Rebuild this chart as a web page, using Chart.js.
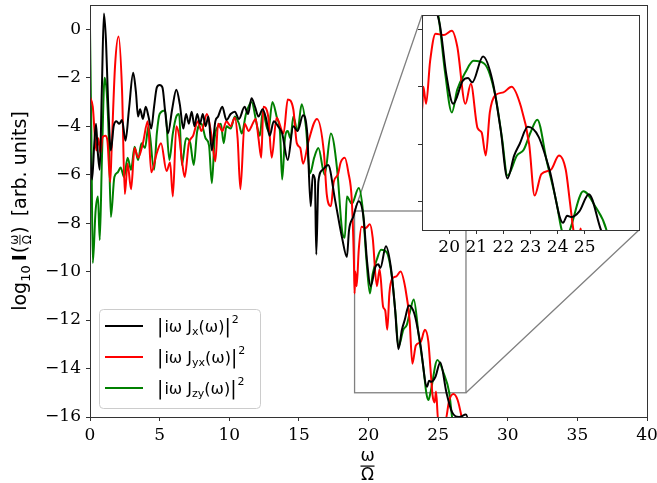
<!DOCTYPE html>
<html>
<head>
<meta charset="utf-8">
<script src="https://cdn.jsdelivr.net/npm/chart.js@4.4.0/dist/chart.umd.min.js"></script>
<style>
  html, body { margin: 0; padding: 0; background: #fff; }
  #wrap { position: relative; width: 657px; height: 483px; }
  #main { position: absolute; left: 0; top: 0; }
  #inset { position: absolute; left: 400px; top: 0; }
</style>
</head>
<body>
<div id="wrap">
  <canvas id="main" width="657" height="483"></canvas>
  <canvas id="inset" width="257" height="260"></canvas>
</div>
<script>
// spectra (omega/Omega, log10 intensity)
var blackX = [0, 0.15, 0.3, 0.43, 0.55, 0.7, 0.85, 1.0, 1.15, 1.3, 1.5, 1.7, 1.9, 2.1, 2.3, 2.55, 2.8, 3.1, 3.3, 3.45,
  3.6, 3.8, 4.0, 4.2, 4.4, 4.6, 4.8, 5.0, 5.2, 5.4, 5.6, 5.9, 6.2, 6.45, 6.7, 6.9, 7.1, 7.3, 7.5, 7.7,
  7.9, 8.1, 8.3, 8.5, 8.75, 9.0, 9.2, 9.5, 9.8, 10.1, 10.4, 10.7, 11.1, 11.35, 11.6, 11.85, 12.1, 12.4, 12.65, 12.9,
  13.2, 13.5, 13.8, 14.2, 14.6, 14.9, 15.3, 15.6, 15.85, 16.0, 16.15, 16.25, 16.4, 16.7, 17.1, 17.6, 18.1, 18.45, 18.6, 18.9,
  19.3, 19.65, 19.9, 20.15, 20.5, 20.7, 20.85, 21.25, 21.6, 21.9, 22.15, 22.4, 22.6, 22.9, 23.3, 23.7, 24.2, 24.35, 24.5, 24.8,
  25.15, 25.6, 26.0, 26.5, 27.0, 27.3];
var blackY = [-5.0, -6.2, -4.8, -3.9, -5.0, -5.8, -2.5, 0.65, -0.5, -3.0, -5.0, -4.0, -3.8, -3.9, -3.75, -4.6, -3.3, -1.8, -2.6, -3.6,
  -3.3, -3.7, -3.2, -3.6, -4.1, -3.2, -2.4, -2.3, -2.4, -3.4, -4.3, -3.3, -2.5, -3.1, -4.1, -3.5, -3.9, -3.4, -4.0, -3.5,
  -3.9, -3.5, -4.0, -3.6, -5.0, -3.8, -3.6, -3.2, -3.75, -3.5, -3.4, -3.7, -3.2, -3.5, -2.85, -3.2, -3.6, -3.3, -3.7, -4.4,
  -3.8, -4.0, -4.3, -5.4, -4.0, -4.2, -3.55, -4.3, -7.3, -6.0, -6.2, -9.3, -6.3, -5.8, -5.6, -7.05, -8.6, -9.4, -8.3, -7.75,
  -7.1, -7.8, -9.6, -10.6, -9.8, -9.7, -9.85, -8.95, -9.8, -11.5, -13.2, -12.4, -12.0, -11.4, -11.75, -12.9, -14.75, -14.5, -14.55, -14.35,
  -13.75, -15.0, -15.8, -16.0, -15.9, -16.5];

var redX = [0, 0.2, 0.45, 0.6, 0.75, 0.9, 1.1, 1.25, 1.45, 1.55, 1.8, 2.05, 2.3, 2.5, 2.7, 2.95, 3.2, 3.45, 3.8, 4.15,
  4.4, 4.8, 5.1, 5.5, 5.75, 5.95, 6.2, 6.4, 6.6, 6.8, 7.1, 7.4, 7.75, 8.0, 8.4, 8.7, 9.0, 9.2, 9.5, 9.8,
  10.1, 10.4, 10.6, 10.8, 11.1, 11.4, 11.6, 11.9, 12.1, 12.3, 12.45, 12.8, 13.05, 13.4, 13.9, 14.2, 14.6, 14.85, 15.1, 15.3,
  15.7, 16.3, 16.8, 17.0, 17.3, 17.5, 17.8, 18.0, 18.3, 18.55, 18.8, 18.95, 19.0, 19.05, 19.15, 19.3, 19.5, 19.8, 20.1, 20.3,
  20.6, 20.8, 21.05, 21.2, 21.35, 21.5, 21.7, 22.0, 22.3, 22.65, 22.95, 23.15, 23.4, 23.75, 24.05, 24.3, 24.45, 24.6, 24.75, 24.85,
  25.0, 25.5, 25.8, 26.1, 26.4, 26.8];
var redY = [-2.8, -3.2, -5.0, -4.5, -5.1, -4.45, -4.4, -4.6, -6.3, -5.0, -1.5, -0.3, -2.5, -6.8, -5.55, -6.6, -4.9, -5.3, -4.7, -3.8,
  -5.9, -5.1, -4.7, -5.85, -5.5, -6.9, -4.0, -4.4, -5.4, -6.1, -4.7, -4.4, -3.8, -4.2, -3.5, -4.3, -5.45, -3.9, -4.2, -3.8,
  -4.0, -3.65, -4.5, -6.6, -3.9, -4.2, -4.0, -3.7, -4.5, -5.3, -3.2, -3.6, -5.3, -3.65, -4.3, -2.9, -3.3, -4.7, -4.9, -5.55,
  -4.6, -3.7, -5.1, -6.8, -7.3, -6.3, -6.0, -5.5, -5.3, -5.9, -7.05, -9.5, -10.9, -10.0, -10.6, -9.1, -8.15, -8.2, -8.05, -8.6,
  -10.6, -9.9, -11.45, -11.6, -12.4, -10.9, -10.3, -10.2, -10.0, -10.7, -12.0, -13.8, -13.05, -12.9, -12.4, -12.9, -14.0, -15.1, -15.4, -14.95,
  -16.1, -16.2, -15.3, -15.05, -15.3, -16.3];

var greenX = [0, 0.1, 0.2, 0.4, 0.57, 0.7, 0.85, 1.05, 1.2, 1.35, 1.5, 1.75, 2.0, 2.2, 2.45, 2.7, 2.95, 3.2, 3.45, 3.7,
  3.95, 4.2, 4.6, 4.8, 5.0, 5.4, 5.7, 5.95, 6.2, 6.4, 6.6, 6.9, 7.2, 7.45, 7.7, 8.0, 8.3, 8.55, 8.75, 8.95,
  9.2, 9.4, 9.6, 9.8, 10.1, 10.4, 10.7, 10.9, 11.2, 11.6, 12.0, 12.2, 12.4, 12.8, 13.1, 13.4, 13.65, 13.8, 14.0, 14.2,
  14.4, 14.6, 14.9, 15.2, 15.5, 15.8, 16.1, 16.4, 16.85, 17.3, 17.75, 18.1, 18.3, 18.45, 18.8, 19.3, 19.6, 19.85, 20.1, 20.3,
  20.6, 20.9, 21.3, 21.7, 21.95, 22.15, 22.5, 22.75, 23.0, 23.25, 23.6, 23.95, 24.15, 24.3, 24.45, 24.95, 25.4, 25.8, 26.0, 26.3];
var greenY = [0.0, -4.5, -9.65, -7.5, -6.9, -8.7, -5.5, -2.0, -2.6, -4.5, -7.75, -6.1, -5.9, -5.7, -6.1, -5.3, -5.8, -4.85, -5.4, -4.7,
  -4.9, -4.0, -5.8, -4.3, -3.5, -3.35, -5.4, -4.3, -3.6, -3.5, -5.6, -4.5, -4.7, -5.6, -4.2, -3.9, -4.5, -4.8, -6.35, -4.5,
  -4.0, -3.9, -4.7, -4.0, -4.1, -3.6, -3.9, -4.3, -3.5, -3.0, -4.0, -4.4, -3.4, -4.2, -3.0, -3.6, -4.3, -6.2, -4.5, -4.2,
  -4.5, -3.6, -4.2, -3.1, -4.0, -5.95, -5.3, -4.9, -6.0, -4.3, -5.8, -8.3, -8.6, -6.9, -7.2, -6.55, -7.5, -9.5, -10.9, -10.1,
  -9.5, -9.1, -9.2, -10.3, -11.8, -13.1, -12.4, -12.2, -11.6, -11.15, -12.6, -14.0, -15.0, -15.3, -15.0, -13.65, -14.2, -15.0, -16.0, -17.0];

var seriesNames = ['x', 'yx', 'zy'];
var seriesColors = ['#000000', '#ff0000', '#008000'];

var xTicksMain = [0, 5, 10, 15, 20, 25, 30, 35, 40];
var yTicksMain = [-16, -14, -12, -10, -8, -6, -4, -2, 0];
var xTicksInset = [20, 21, 22, 23, 24, 25];
var yTicksInset = [-14, -12, -10, -8];
var zoomBox = { x0: 19, x1: 27, y0: -15, y1: -7.5 };

var INSET_LEFT = 400, INSET_TOP = 0;
var axisColor = '#333333';
var tickFont = { family: 'DejaVu Serif', size: 17 };

function pts(xs, ys) {
  return xs.map(function(x, i) { return { x: x, y: ys[i] }; });
}

function makeDatasets(width) {
  var all = [[blackX, blackY], [redX, redY], [greenX, greenY]];
  return all.map(function(s, i) {
    return {
      label: seriesNames[i],
      data: pts(s[0], s[1]),
      borderColor: seriesColors[i],
      borderWidth: width,
      pointRadius: 0,
      cubicInterpolationMode: 'monotone',
      fill: false
    };
  });
}

function fixedTicks(list) {
  return function(scale) { scale.ticks = list.map(function(v) { return { value: v }; }); };
}

function minusLabel(v) {
  return String(v).replace('-', '\u2212');
}

// draws a row of text pieces (font, dy) starting at x
function drawPieces(ctx, x, y, parts, measureOnly) {
  var cx = x;
  parts.forEach(function(p) {
    ctx.font = p.f;
    if (!measureOnly) ctx.fillText(p.t, cx, y + (p.dy || 0));
    cx += ctx.measureText(p.t).width + (p.gap || 0);
  });
  return cx - x;
}

var frameBox = {
  id: 'frameBox',
  beforeDraw: function(chart, args, opts) {
    if (opts.white) {
      var a = chart.chartArea;
      chart.ctx.save();
      chart.ctx.fillStyle = '#fff';
      chart.ctx.fillRect(a.left, a.top, a.right - a.left, a.bottom - a.top);
      chart.ctx.restore();
    }
  },
  afterDraw: function(chart) {
    var a = chart.chartArea, ctx = chart.ctx;
    ctx.save();
    ctx.strokeStyle = axisColor;
    ctx.lineWidth = 1;
    ctx.strokeRect(a.left + 0.5, a.top + 0.5, a.right - a.left, a.bottom - a.top);
    ctx.restore();
  }
};

var insetChart = new Chart(document.getElementById('inset'), {
  type: 'line',
  data: { datasets: makeDatasets(2) },
  plugins: [frameBox],
  options: {
    responsive: false,
    animation: false,
    devicePixelRatio: 1,
    layout: { padding: { left: 12, right: 18, top: 15, bottom: 2 } },
    plugins: { legend: { display: false }, tooltip: { enabled: false }, frameBox: { white: true } },
    scales: {
      x: {
        type: 'linear', min: zoomBox.x0, max: zoomBox.x1,
        afterBuildTicks: fixedTicks(xTicksInset),
        afterFit: function(s) { s.height = 28; s.paddingLeft = 0; s.paddingRight = 0; },
        grid: { drawOnChartArea: false, drawTicks: true, tickLength: 4, tickColor: axisColor },
        border: { color: axisColor },
        ticks: { autoSkip: false, maxRotation: 0, padding: 3, color: '#000', font: tickFont }
      },
      y: {
        type: 'linear', min: zoomBox.y0, max: zoomBox.y1,
        afterBuildTicks: fixedTicks(yTicksInset),
        afterFit: function(s) { s.width = 10; s.paddingTop = 0; s.paddingBottom = 0; },
        grid: { drawOnChartArea: false, drawTicks: true, tickLength: 4, tickColor: axisColor },
        border: { color: axisColor },
        ticks: { display: false }
      }
    }
  }
});

var decorations = {
  id: 'decorations',
  beforeDatasetsDraw: function(chart) {
    var ctx = chart.ctx, xs = chart.scales.x, ys = chart.scales.y;
    var bx0 = xs.getPixelForValue(zoomBox.x0), bx1 = xs.getPixelForValue(zoomBox.x1);
    var by0 = ys.getPixelForValue(zoomBox.y1), by1 = ys.getPixelForValue(zoomBox.y0);
    var ia = insetChart.chartArea;
    ctx.save();
    ctx.strokeStyle = '#808080';
    ctx.lineWidth = 1.3;
    ctx.strokeRect(bx0, by0, bx1 - bx0, by1 - by0);
    ctx.beginPath();
    ctx.moveTo(bx0, by0);
    ctx.lineTo(INSET_LEFT + ia.left, INSET_TOP + ia.top);
    ctx.moveTo(bx1, by1);
    ctx.lineTo(INSET_LEFT + ia.right, INSET_TOP + ia.bottom);
    ctx.stroke();
    ctx.restore();
  },
  afterDraw: function(chart) {
    var ctx = chart.ctx, a = chart.chartArea;
    ctx.save();
    ctx.fillStyle = '#000';
    ctx.textBaseline = 'alphabetic';

    // y axis title
    var big = '19px "DejaVu Sans"', small = '13px "DejaVu Sans"', bold = 'bold 19px "DejaVu Sans"';
    var fracFont = '12px "DejaVu Sans"';
    var before = [{ t: 'log', f: big }, { t: '10', f: small, dy: 4, gap: 4 }, { t: 'I', f: bold, gap: 1 }, { t: '(', f: big }];
    var after = [{ t: ')', f: big, gap: 10 }, { t: '[arb. units]', f: big }];
    ctx.font = fracFont;
    var fracW = Math.max(ctx.measureText('ω').width, ctx.measureText('Ω').width) + 2;
    var w1 = drawPieces(ctx, 0, 0, before, true);
    var w2 = drawPieces(ctx, 0, 0, after, true);
    var total = w1 + fracW + w2;
    ctx.translate(26, (a.top + a.bottom) / 2);
    ctx.rotate(-Math.PI / 2);
    var sx = -total / 2;
    drawPieces(ctx, sx, 0, before, false);
    var fx = sx + w1;
    ctx.font = fracFont;
    ctx.textAlign = 'center';
    ctx.fillText('ω', fx + fracW / 2, -8);
    ctx.fillText('Ω', fx + fracW / 2, 5);
    ctx.fillRect(fx + 1, -6.5, fracW - 2, 0.9);
    ctx.textAlign = 'left';
    drawPieces(ctx, fx + fracW, 0, after, false);
    ctx.restore();

    // x axis title: omega over Omega
    ctx.save();
    ctx.fillStyle = '#000';
    ctx.font = '17px "DejaVu Sans"';
    ctx.textAlign = 'center';
    var mx = (a.left + a.right) / 2 - 1;
    ctx.fillText('ω', mx, 461);
    ctx.fillRect(mx - 7, 465.5, 14, 1.2);
    ctx.fillText('Ω', mx, 480);
    ctx.restore();

    // legend
    var lx = a.left + 9, ly = a.bottom - 108, lw = 161, lh = 99;
    ctx.save();
    ctx.beginPath();
    ctx.roundRect(lx + 0.5, ly + 0.5, lw, lh, 4);
    ctx.fillStyle = 'rgba(255,255,255,0.8)';
    ctx.fill();
    ctx.strokeStyle = '#cccccc';
    ctx.lineWidth = 1;
    ctx.stroke();
    var tf = '16px "DejaVu Sans"', bar = '19px "DejaVu Sans"', sf = '11px "DejaVu Sans"';
    seriesNames.forEach(function(name, i) {
      var y = ly + 17 + i * 31;
      ctx.strokeStyle = seriesColors[i];
      ctx.lineWidth = 2;
      ctx.beginPath();
      ctx.moveTo(lx + 6, y);
      ctx.lineTo(lx + 44, y);
      ctx.stroke();
      ctx.fillStyle = '#000';
      drawPieces(ctx, lx + 58, y + 6, [
        { t: '|', f: bar, dy: 1, gap: 1 },
        { t: 'iω J', f: tf },
        { t: name, f: sf, dy: 3 },
        { t: '(ω)', f: tf },
        { t: '|', f: bar, dy: 1, gap: 1 },
        { t: '2', f: sf, dy: -9 }
      ], false);
    });
    ctx.restore();
  }
};

var mainChart = new Chart(document.getElementById('main'), {
  type: 'line',
  data: { datasets: makeDatasets(2) },
  plugins: [frameBox, decorations],
  options: {
    responsive: false,
    animation: false,
    devicePixelRatio: 1,
    layout: { padding: { left: 0, right: 10, top: 5, bottom: 0 } },
    plugins: { legend: { display: false }, tooltip: { enabled: false }, frameBox: { white: false } },
    scales: {
      x: {
        type: 'linear', min: 0, max: 40,
        afterBuildTicks: fixedTicks(xTicksMain),
        afterFit: function(s) { s.height = 66; s.paddingLeft = 0; s.paddingRight = 0; },
        grid: { drawOnChartArea: false, drawTicks: true, tickLength: 4, tickColor: axisColor },
        border: { color: axisColor },
        ticks: { autoSkip: false, maxRotation: 0, padding: 4, color: '#000', font: tickFont }
      },
      y: {
        type: 'linear', min: -16, max: 1,
        afterBuildTicks: fixedTicks(yTicksMain),
        afterFit: function(s) { s.width = 90; s.paddingTop = 0; s.paddingBottom = 0; },
        grid: { drawOnChartArea: false, drawTicks: true, tickLength: 4, tickColor: axisColor },
        border: { color: axisColor },
        ticks: { padding: 5, color: '#000', font: tickFont, callback: minusLabel }
      }
    }
  }
});
</script>
</body>
</html>
